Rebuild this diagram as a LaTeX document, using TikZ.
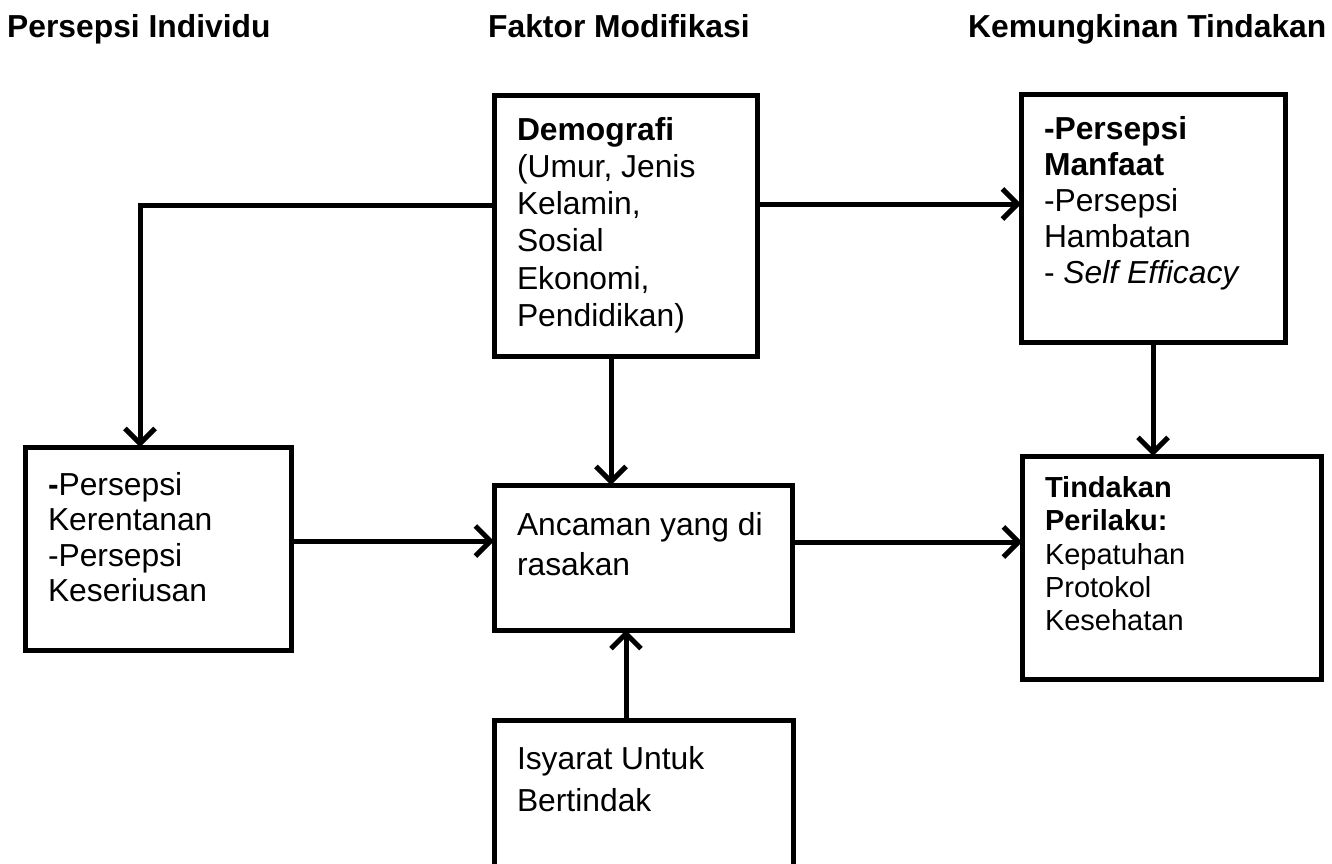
\documentclass[tikz,border=0pt]{standalone}
\usepackage{fontspec}
\setmainfont{Liberation Sans}
\usetikzlibrary{arrows.meta,positioning}
\tikzstyle{kotak} = [rectangle, draw, line width=5pt, anchor=north west,
    inner xsep=23pt, inner ysep=0pt, outer sep=0pt,
    font=\fontsize{31.8}{37.3}\selectfont]
\tikzstyle{judul} = [anchor=base west, inner sep=0pt,
    font=\fontsize{31.8}{37}\selectfont\bfseries]
\tikzstyle{panah} = [line width=5pt, -{Straight Barb[length=15pt,width=30pt]}]
\newcommand{\isi}[4]{\parbox[t][#1][t]{#2}{\raggedright\rule{0pt}{#3}#4}}

\begin{document}
\begin{tikzpicture}[x=1pt,y=-1pt]
  \useasboundingbox (0,0) rectangle (1332,863);
  \clip (0,0) rectangle (1332,863);

  \node[judul] (j1) at (7,37)   {Persepsi Individu};
  \node[judul] (j2) at (488,37) {Faktor Modifikasi};
  \node[judul] (j3) at (968,37) {Kemungkinan Tindakan};

  \node[kotak] (demo) at (494,95)
    {\isi{261pt}{217pt}{45pt}{\textbf{Demografi}\\(Umur, Jenis\\Kelamin,\\Sosial\\Ekonomi,\\Pendidikan)}};
  \node[kotak,font=\fontsize{31.8}{36}\selectfont] (manfaat) at (1021,94)
    {\isi{248pt}{218pt}{45pt}{\textbf{-Persepsi}\\\textbf{Manfaat}\\-Persepsi\\Hambatan\\- \textit{Self Efficacy}}};
  \node[kotak,font=\fontsize{31.8}{35.6}\selectfont] (kiri) at (25,447)
    {\isi{203pt}{220pt}{48pt}{\textbf{-}Persepsi\\Kerentanan\\-Persepsi\\Keseriusan}};
  \node[kotak,font=\fontsize{31.8}{40}\selectfont] (ancaman) at (494,485)
    {\isi{145pt}{252pt}{50pt}{Ancaman yang di\\rasakan}};
  \node[kotak,font=\fontsize{29}{33.3}\selectfont] (tindakan) at (1022,456)
    {\isi{223pt}{253pt}{41.5pt}{\textbf{Tindakan}\\\textbf{Perilaku:}\\Kepatuhan\\Protokol\\Kesehatan}};
  \node[kotak,font=\fontsize{31.8}{42}\selectfont] (isyarat) at (494,720)
    {\isi{146pt}{253pt}{49pt}{Isyarat Untuk\\Bertindak}};

  \draw[panah] (demo.west |- 0,205) -| (kiri.north -| 140,0);
  \draw[panah] (demo.east |- 0,204) -- (manfaat.west |- 0,204);
  \draw[panah] (demo.south -| 611,0) -- (ancaman.north -| 611,0);
  \draw[panah] (kiri.east |- 0,541) -- (ancaman.west |- 0,541);
  \draw[panah] (ancaman.east |- 0,542) -- (tindakan.west |- 0,542);
  \draw[panah] (manfaat.south) -- (tindakan.north -| manfaat.south);
  \draw[panah] (isyarat.north -| 626,0) -- (ancaman.south -| 626,0);
\end{tikzpicture}
\end{document}
